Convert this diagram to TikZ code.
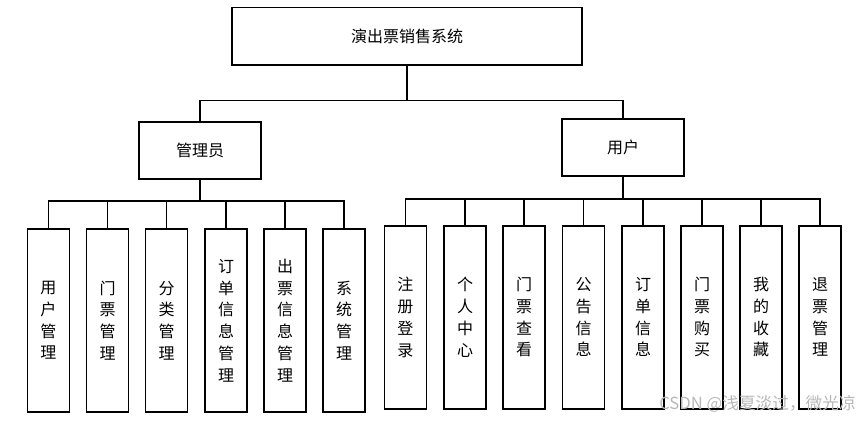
\documentclass[tikz,border=0pt]{standalone}
\usepackage{fontspec}
\setmainfont{Noto Sans CJK SC}
\begin{document}
\begin{tikzpicture}[x=0.75pt,y=-0.75pt,
  box/.style={draw, line width=1.2pt, inner sep=0pt, font=\fontsize{12pt}{16.3pt}\selectfont, align=center},
  topbox/.style={box, minimum width=350*0.75pt, minimum height=57.5*0.75pt},
  midbox/.style={box, minimum width=122*0.75pt, minimum height=57*0.75pt},
  leaf/.style={box, minimum width=42*0.75pt, minimum height=183*0.75pt},
  bus/.style={line width=1.2pt},
  stem/.style={line width=2pt}]
\useasboundingbox (0,0) rectangle (860,422);
\node[topbox] (top) at (407,36.3) {演出票销售系统};
\node[midbox] (adm) at (200,150.5) {管理员};
\node[midbox] (usr) at (623,147.5) {用户};
\coordinate (busT) at (0,100.5);
\coordinate (busL) at (0,201);
\coordinate (busR) at (0,198.7);
% admin leaves
\node[leaf] (l1) at (48.3,320.5) {用\\户\\管\\理};
\node[leaf] (l2) at (107.5,320.5) {门\\票\\管\\理};
\node[leaf] (l3) at (166.5,320.5) {分\\类\\管\\理};
\node[leaf] (l4) at (226,320.5) {订\\单\\信\\息\\管\\理};
\node[leaf] (l5) at (285,320.5) {出\\票\\信\\息\\管\\理};
\node[leaf] (l6) at (344,320.5) {系\\统\\管\\理};
% user leaves
\node[leaf] (r1) at (405.3,317.3) {注\\册\\登\\录};
\node[leaf] (r2) at (465,317.3) {个\\人\\中\\心};
\node[leaf] (r3) at (524,317.3) {门\\票\\查\\看};
\node[leaf] (r4) at (583.5,317.3) {公\\告\\信\\息};
\node[leaf] (r5) at (643,317.3) {订\\单\\信\\息};
\node[leaf] (r6) at (702,317.3) {门\\票\\购\\买};
\node[leaf] (r7) at (761,317.3) {我\\的\\收\\藏};
\node[leaf] (r8) at (820,317.3) {退\\票\\管\\理};
% top level connectors
\draw[stem] (top.south) -- (top.south |- busT);
\draw[bus] (adm.north) -- (adm.north |- busT) -- (usr.north |- busT) -- (usr.north);
% admin connectors
\draw[stem] (adm.south) -- (adm.south |- busL);
\draw[bus] (l1.north) -- (l1.north |- busL) -- (l6.north |- busL) -- (l6.north);
\foreach \n in {l2,l3,l4,l5}{\draw[bus] (\n.north) -- (\n.north |- busL);}
% user connectors
\draw[stem] (usr.south) -- (usr.south |- busR);
\draw[bus] (r1.north) -- (r1.north |- busR) -- (r8.north |- busR) -- (r8.north);
\foreach \n in {r2,r3,r4,r5,r6,r7}{\draw[bus] (\n.north) -- (\n.north |- busR);}
% watermark
\node[text=black!28, font=\fontsize{12.5pt}{14pt}\selectfont, inner sep=0pt] (wm) at (757.5,404) {CSDN @浅夏淡过，微光凉};
\end{tikzpicture}
\end{document}
